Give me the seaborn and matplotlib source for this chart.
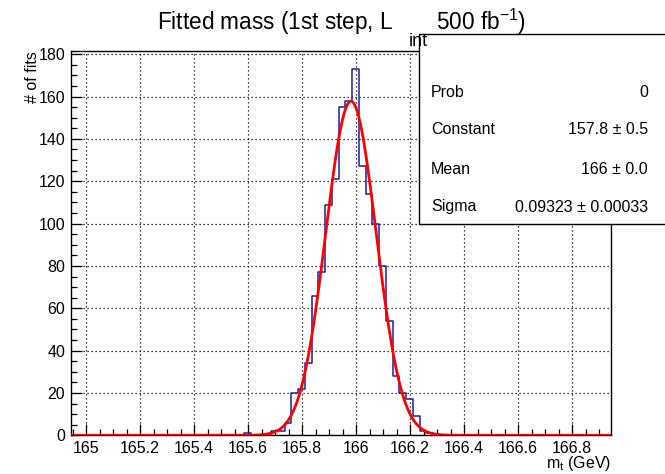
import numpy as np
import pandas as pd
import seaborn as sns
import matplotlib
matplotlib.use("Agg")
import matplotlib.pyplot as plt
from matplotlib.ticker import MultipleLocator
from matplotlib.patches import Rectangle

# Histogram of fitted top mass (bin left edges, 0.025 GeV wide) and counts
bin_left = [165.585, 165.61, 165.635, 165.66, 165.685, 165.71, 165.735, 165.76,
            165.785, 165.81, 165.835, 165.86, 165.885, 165.91, 165.935, 165.96,
            165.985, 166.01, 166.035, 166.06, 166.085, 166.11, 166.135, 166.16,
            166.185, 166.21, 166.235, 166.26]
counts = [1, 0, 0, 0, 2, 2, 6, 20,
          22, 34, 66, 77, 109, 121, 155, 158,
          173, 127, 114, 100, 80, 54, 28, 20,
          17, 9, 2, 1]
bin_width = 0.025

# Gaussian fit parameters
fit_const = 157.8
fit_const_err = 0.5
fit_mean = 165.981
fit_mean_err = 0.0
fit_sigma = 0.09323
fit_sigma_err = 0.00033
fit_prob = 0

x_ticks = [165.0, 165.2, 165.4, 165.6, 165.8, 166.0, 166.2, 166.4, 166.6, 166.8]
x_tick_labels = ["165", "165.2", "165.4", "165.6", "165.8", "166",
                 "166.2", "166.4", "166.6", "166.8"]
y_ticks = [0, 20, 40, 60, 80, 100, 120, 140, 160, 180]

sns.set_theme(style="white")
plt.rcParams['font.family'] = ['Liberation Sans', 'DejaVu Sans']
plt.rcParams['mathtext.fontset'] = 'custom'
plt.rcParams['mathtext.rm'] = 'Liberation Sans'
plt.rcParams['mathtext.it'] = 'Liberation Sans'
plt.rcParams['text.color'] = 'black'
plt.rcParams['axes.labelcolor'] = 'black'

W, H = 665, 474
fig = plt.figure(figsize=(W / 100, H / 100), dpi=100)
fig.patch.set_facecolor("white")

x0, x1, ytop, ybot = 70.7, 610.7, 50.7, 435.3
ax = fig.add_axes([x0 / W, 1 - ybot / H, (x1 - x0) / W, (ybot - ytop) / H])
ax.set_facecolor("white")

xlo, xhi = 164.943, 166.943
ymax = 1.05 * max(counts)

df = pd.DataFrame({"center": np.array(bin_left) + bin_width / 2, "n": counts})
edges = [round(164.935 + i * bin_width, 4) for i in range(82)]

ax.grid(True, which="major", color="black", linestyle=(0, (1, 2.2)), linewidth=0.9)
ax.set_axisbelow(True)

sns.histplot(data=df, x="center", weights="n", bins=edges, element="step",
             fill=False, color="#1c1ca8", linewidth=1.1, ax=ax, zorder=3)

# Fitted gaussian across the full axis range
xs = np.linspace(xlo, xhi, 1500)
gauss = pd.DataFrame({"x": xs,
                      "y": fit_const * np.exp(-0.5 * ((xs - fit_mean) / fit_sigma) ** 2)})
sns.lineplot(data=gauss, x="x", y="y", color="#ff0000", linewidth=2.0, ax=ax,
             zorder=4)

ax.set_xlim(xlo, xhi)
ax.set_ylim(0, ymax)
ax.set_xticks(x_ticks)
ax.set_xticklabels(x_tick_labels)
ax.set_yticks(y_ticks)
ax.xaxis.set_minor_locator(MultipleLocator(0.05))
ax.yaxis.set_minor_locator(MultipleLocator(5))
ax.tick_params(axis="both", which="major", direction="in", length=8, width=0.9,
               labelsize=11.5, colors="black", pad=4)
ax.tick_params(axis="both", which="minor", direction="in", length=4.3, width=0.9,
               colors="black")
ax.tick_params(axis="x", which="both", top=False, bottom=True)
ax.tick_params(axis="y", which="both", left=True, right=False)
for s in ax.spines.values():
    s.set_color("black")
    s.set_linewidth(1.0)

ax.set_xlabel("m$_{\\mathrm{t}}$ (GeV)", loc="right", fontsize=11.5, labelpad=-1,
              color="black")
ax.set_ylabel("# of fits", loc="top", fontsize=11.5, labelpad=-1, color="black")

# Title (subscript placed lower, as drawn by the original toolkit)
fig.text(341.5 / W, 1 - 22 / H, "Fitted mass (1st step, L       500 fb$^{-1}$)",
         ha="center", va="center", fontsize=16.3, color="black")
fig.text(409 / W, 1 - 41 / H, "int", ha="left", va="center", fontsize=13,
         color="black", zorder=12)

# Statistics box
bx0, bx1, by0, by1 = 419, 667, 34, 224
fig.patches.append(Rectangle((bx0 / W, 1 - by1 / H), (bx1 - bx0) / W, (by1 - by0) / H,
                             transform=fig.transFigure, facecolor="white",
                             edgecolor="black", linewidth=1.0, zorder=10))
rows = [("Prob", f"{fit_prob:g}", 93),
        ("Constant", f"{fit_const:.1f} \u00b1 {fit_const_err:.1f}", 130),
        ("Mean", f"{fit_mean:.0f} \u00b1 {fit_mean_err:.1f}", 169),
        ("Sigma", f"{fit_sigma:.5f} \u00b1 {fit_sigma_err:.5f}", 207)]
for name, val, yy in rows:
    fig.text(431 / W, 1 - yy / H, name, ha="left", va="center", fontsize=11.5,
             color="black", zorder=11)
    fig.text(648 / W, 1 - yy / H, val, ha="right", va="center", fontsize=11.5,
             color="black", zorder=11)

fig.savefig("out.png", dpi=100)
